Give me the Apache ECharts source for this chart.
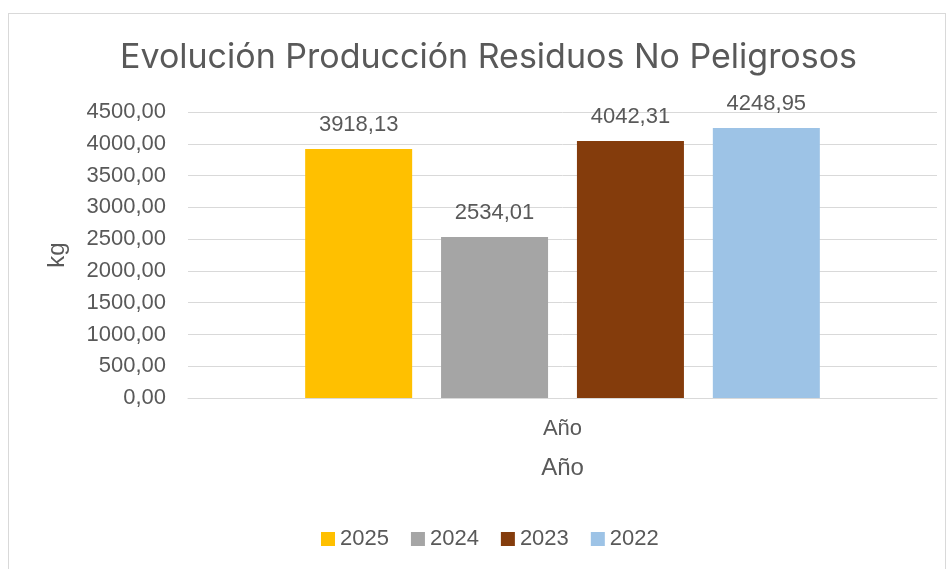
<!DOCTYPE html>
<html>
<head>
<meta charset="utf-8">
<script src="https://cdn.jsdelivr.net/npm/echarts@6/dist/echarts.min.js"></script>
<style>
  html, body { margin: 0; padding: 0; background: #fff; }
  #frame { position: absolute; left: 8px; top: 13px; width: 938px; height: 570px; border: 1px solid #d9d9d9; box-sizing: border-box; }
  #chart { position: absolute; left: 0; top: 0; width: 952px; height: 569px; }
</style>
</head>
<body>
<div id="frame"></div>
<div id="chart"></div>
<script>
// datos
const categories = ['Año']
const seriesNames = ['2025', '2024', '2023', '2022']
const seriesValues = [[3918.13], [2534.01], [4042.31], [4248.95]]
const seriesColors = ['#ffc000', '#a5a5a5', '#843c0c', '#9dc3e6']

const fmt = v => Number(v).toFixed(2).replace('.', ',')
const txt = '#595959'
const font = 'Liberation Sans'

const chart = echarts.init(document.getElementById('chart'))
chart.setOption({
  animation: false,
  title: {
    text: 'Evolución Producción Residuos No Peligrosos',
    left: 115,
    top: 36,
    textStyle: { color: txt, fontSize: 34, fontWeight: 'normal', fontFamily: 'Inter' }
  },
  legend: {
    bottom: 14,
    left: 316,
    itemWidth: 14,
    itemHeight: 14,
    itemGap: 22,
    icon: 'rect',
    data: seriesNames,
    textStyle: { color: txt, fontSize: 22, fontFamily: font }
  },
  grid: { left: 188, right: 15, top: 112, bottom: 171 },
  xAxis: {
    type: 'category',
    data: categories,
    name: 'Año',
    nameLocation: 'middle',
    nameGap: 58,
    nameTextStyle: { color: txt, fontSize: 24, fontFamily: font },
    axisTick: { show: false },
    axisLine: { lineStyle: { color: '#d9d9d9', width: 1 } },
    axisLabel: { color: txt, fontSize: 22, margin: 20, fontFamily: font }
  },
  yAxis: {
    type: 'value',
    min: 0,
    max: 4500,
    interval: 500,
    name: 'kg',
    nameLocation: 'middle',
    nameGap: 119,
    nameTextStyle: { color: txt, fontSize: 24, fontFamily: font },
    axisLabel: { color: txt, fontSize: 22, margin: 22, formatter: fmt, fontFamily: font },
    splitLine: { lineStyle: { color: '#d9d9d9', width: 1 } },
    axisLine: { show: false },
    axisTick: { show: false }
  },
  series: seriesNames.map((name, i) => ({
    name: name,
    type: 'bar',
    data: seriesValues[i],
    barWidth: 107,
    barGap: '27%',
    itemStyle: { color: seriesColors[i] },
    label: {
      show: true,
      position: 'top',
      distance: 13,
      color: txt,
      fontSize: 22,
      fontFamily: font,
      formatter: p => fmt(p.value)
    }
  }))
})
</script>
</body>
</html>
